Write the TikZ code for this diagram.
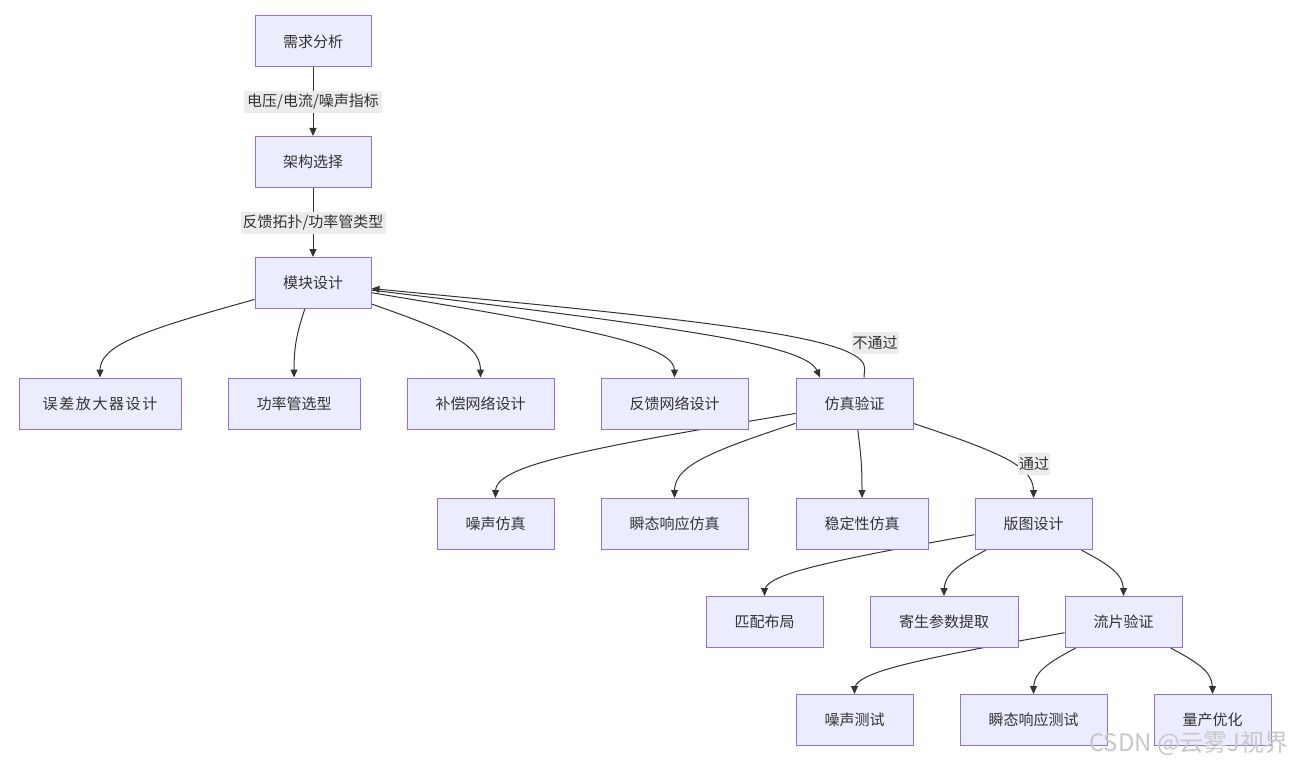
\documentclass[tikz,border=0pt]{standalone}
\usepackage{fontspec}
\setmainfont{Noto Sans CJK SC}
\usetikzlibrary{arrows.meta,calc,backgrounds}
\definecolor{nodefill}{HTML}{ECECFF}
\definecolor{nodeline}{HTML}{9370DB}
\definecolor{edgecol}{HTML}{333333}
\definecolor{txtcol}{HTML}{333333}
\definecolor{lblbg}{HTML}{ECECEC}
\definecolor{wmcol}{HTML}{C8C8C8}
% basis-spline edge: source, middle waypoint, target point
\newcommand\bedge[3]{%
  \path (#1) -- coordinate[pos=0] (bs) (#2);
  \draw[edge] (bs) -- ($0.8333*(bs)+0.1667*(#2)$)
    .. controls ($0.6667*(bs)+0.3333*(#2)$) and ($0.3333*(bs)+0.6667*(#2)$) ..
    ($0.1667*(bs)+0.6667*(#2)+0.1667*(#3)$)
    .. controls ($0.6667*(#2)+0.3333*(#3)$) and ($0.3333*(#2)+0.6667*(#3)$) ..
    ($0.1667*(#2)+0.8333*(#3)$) -- (#3);
}
\newcommand\wk{\kern1.6pt\relax}
\begin{document}
\begin{tikzpicture}[x=1pt,y=-1pt,
  box/.style={draw=nodeline, fill=nodefill, line width=1pt, minimum height=51pt,
    inner sep=0pt, text=txtcol, font=\fontsize{15pt}{18pt}\selectfont},
  edge/.style={draw=edgecol, line width=1pt, -{Triangle[length=8pt,width=7pt]}},
  lbl/.style={fill=lblbg, inner xsep=1pt, inner ysep=0pt, minimum height=22pt,
    text=txtcol, font=\fontsize{15pt}{18pt}\selectfont}]
\useasboundingbox (0,0) rectangle (1292,765);
% nodes
\node[box, minimum width=116pt] (xq) at (313,41.5) {需求分析};
\node[box, minimum width=116pt] (jg) at (313,162) {架构选择};
\node[box, minimum width=116pt] (mk) at (313,283) {模块设计};
\node[box, minimum width=162pt] (wc) at (100,403.5) {误\wk 差\wk 放\wk 大\wk 器\wk 设\wk 计};
\node[box, minimum width=132pt] (gl) at (294,403.5) {功率管选型};
\node[box, minimum width=147pt] (bc) at (480.5,403.5) {补偿网络设计};
\node[box, minimum width=147pt] (fk) at (674.5,403.5) {反馈网络设计};
\node[box, minimum width=117pt] (fz) at (854.5,403.5) {仿真验证};
\node[box, minimum width=117pt] (zs) at (495.5,524) {噪声仿真};
\node[box, minimum width=147pt] (st) at (674.5,524) {瞬态响应仿真};
\node[box, minimum width=132pt] (wd) at (862,524) {稳定性仿真};
\node[box, minimum width=117pt] (bt) at (1033.5,524) {版图设计};
\node[box, minimum width=117pt] (pp) at (764.5,622) {匹配布局};
\node[box, minimum width=148pt] (jsc) at (944,622) {寄生参数提取};
\node[box, minimum width=117pt] (lp) at (1123.5,622) {流片验证};
\node[box, minimum width=117pt] (zc) at (854.5,720) {噪声测试};
\node[box, minimum width=147pt] (stc) at (1033.5,720) {瞬态响应测试};
\node[box, minimum width=117pt] (lc) at (1212.5,720) {量产优化};
% watermark
\node[anchor=east, text=wmcol, inner sep=0pt, font=\fontsize{24pt}{28pt}\selectfont] (wm) at (1289,744) {CSDN @云雾J视界};
% edges behind the nodes
\begin{pgfonlayer}{background}
\fill[white] (0,0) rectangle (1292,765);
\draw[edge] (xq) -- node[lbl, minimum width=138pt] (l1) {电压/电流/噪声指标} (jg);
\draw[edge] (jg) -- node[lbl, minimum width=145pt] (l2) {反馈拓扑/功率管类型} (mk);
\bedge{mk}{100,343}{wc.north}
\bedge{mk}{294,343}{gl.north}
\bedge{mk}{480.5,343}{bc.north}
\bedge{mk}{674.5,343}{fk.north}
\coordinate (fzin) at ($(fz.north)+(-34.5,0)$);
\bedge{mk}{805,343}{fzin}
\coordinate (fzout) at ($(fz.north)+(9.5,0)$);
\path (mk) -- coordinate[pos=0] (mkin) (867,336);
\bedge{fzout}{867,336}{mkin}
\node[lbl] (l3) at (875,343) {不通过};
\bedge{fz}{495.5,464}{zs.north}
\bedge{fz}{674.5,464}{st.north}
\bedge{fz}{862,464}{wd.north}
\bedge{fz}{1033.5,464}{bt.north}
\node[lbl] (l4) at (1034,464) {通过};
\bedge{bt}{764.5,573}{pp.north}
\bedge{bt}{944,573}{jsc.north}
\bedge{bt}{1123.5,573}{lp.north}
\bedge{lp}{854.5,671}{zc.north}
\bedge{lp}{1033.5,671}{stc.north}
\bedge{lp}{1212.5,671}{lc.north}
\end{pgfonlayer}
\end{tikzpicture}
\end{document}
